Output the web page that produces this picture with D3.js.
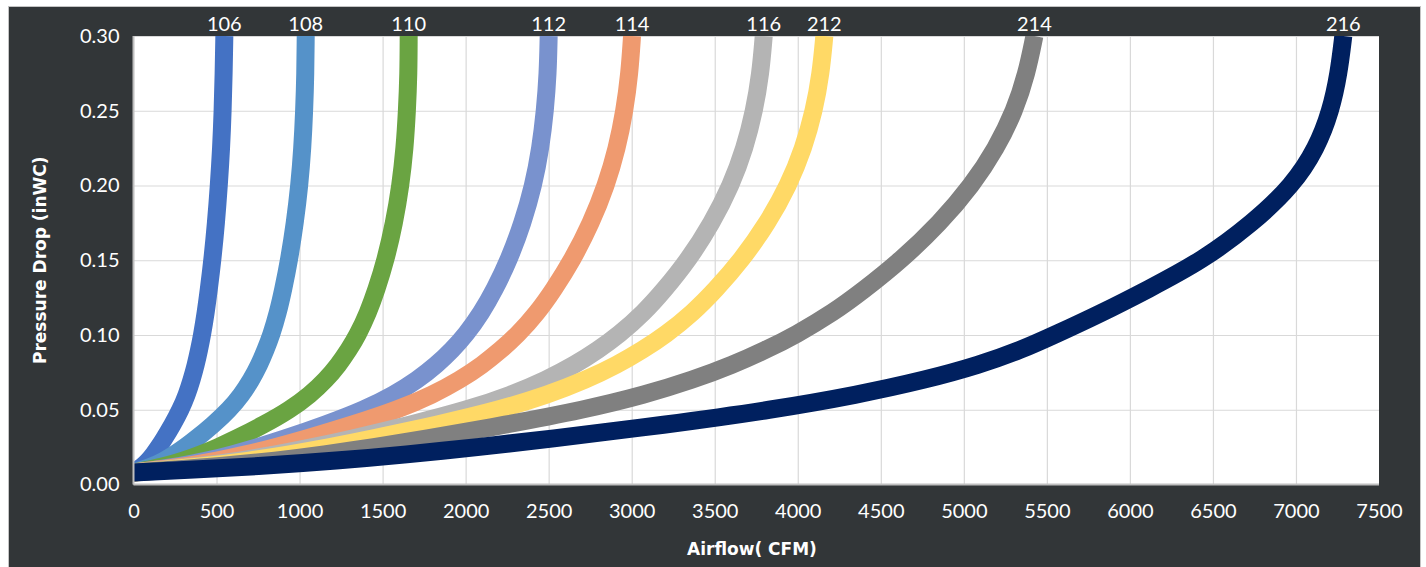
<!DOCTYPE html>
<html>
<head>
<meta charset="utf-8">
<script src="https://cdn.jsdelivr.net/npm/d3@7"></script>
<style>
  body { margin: 0; background: #ffffff; }
  svg { display: block; }
</style>
</head>
<body>
<div id="chart"></div>
<script>
// pressure drop levels (inWC) shared by every model curve
var pressureLevels = [0.008, 0.010, 0.012, 0.016, 0.02, 0.025, 0.03, 0.04, 0.05, 0.06, 0.07, 0.08, 0.09, 0.10, 0.115, 0.13, 0.15, 0.175, 0.20, 0.225, 0.25, 0.275, 0.30];

// airflow (CFM) at those levels
var cfm106 = [0, 27, 53, 91, 120, 152, 181, 235, 283, 321, 350, 375, 395, 413, 435, 453, 475, 497, 514, 528, 537, 543, 547];
var cfm108 = [0, 55, 110, 186, 246, 311, 371, 480, 576, 651, 709, 757, 795, 830, 870, 901, 937, 972, 999, 1017, 1028, 1035, 1037];
var cfm110 = [0, 90, 181, 304, 403, 510, 608, 785, 942, 1063, 1158, 1234, 1296, 1350, 1413, 1462, 1518, 1570, 1608, 1633, 1647, 1656, 1657];
var cfm112 = [0, 133, 265, 448, 593, 750, 895, 1156, 1389, 1569, 1710, 1825, 1918, 2000, 2096, 2173, 2260, 2344, 2408, 2451, 2478, 2495, 2500];
var cfm114 = [0, 150, 300, 510, 675, 856, 1021, 1321, 1591, 1801, 1966, 2101, 2212, 2312, 2432, 2528, 2642, 2756, 2846, 2912, 2957, 2987, 3002];
var cfm116 = [0, 190, 380, 645, 854, 1082, 1290, 1670, 2011, 2277, 2486, 2657, 2797, 2922, 3074, 3195, 3340, 3484, 3598, 3681, 3738, 3776, 3795];
var cfm212 = [0, 208, 416, 707, 936, 1186, 1414, 1830, 2205, 2496, 2725, 2912, 3066, 3203, 3370, 3503, 3661, 3819, 3944, 4035, 4098, 4139, 4160];
var cfm214 = [0, 252, 505, 865, 1145, 1451, 1731, 2245, 2714, 3080, 3369, 3608, 3808, 3987, 4214, 4397, 4622, 4857, 5048, 5196, 5306, 5379, 5425];
var cfm216 = [0, 364, 729, 1238, 1639, 2076, 2477, 3205, 3850, 4360, 4770, 5095, 5345, 5545, 5835, 6100, 6440, 6740, 6980, 7125, 7210, 7258, 7285];

var models = ['106', '108', '110', '112', '114', '116', '212', '214', '216'];
var modelCfm = [cfm106, cfm108, cfm110, cfm112, cfm114, cfm116, cfm212, cfm214, cfm216];
var modelColors = ['#4472c4', '#5592c9', '#6aa442', '#7992ce', '#ef9a6f', '#b4b4b4', '#ffd966', '#808080', '#00205f'];

var xTickValues = [0, 500, 1000, 1500, 2000, 2500, 3000, 3500, 4000, 4500, 5000, 5500, 6000, 6500, 7000, 7500];
var yTickValues = [0, 0.05, 0.10, 0.15, 0.20, 0.25, 0.30];

var w = 1426, h = 567;
var plotLeft = 133.5, plotRight = 1379, plotTop = 36, plotBottom = 484.5;
var labelFont = 'Lato, "DejaVu Sans", sans-serif';
var titleFont = '"DejaVu Sans", sans-serif';

var x = d3.scaleLinear().domain([0, 7500]).range([plotLeft, plotRight]);
var y = d3.scaleLinear().domain([0, 0.30]).range([plotBottom, plotTop]);

var svg = d3.select('#chart').append('svg')
	.attr('width', w)
	.attr('height', h);

// dark frame behind everything
svg.append('rect')
	.attr('x', 8.5)
	.attr('y', 6.5)
	.attr('width', 1412)
	.attr('height', 575)
	.attr('fill', '#323638')
	.attr('stroke', '#c4c4c4')
	.attr('stroke-width', 1);

svg.append('rect')
	.attr('x', plotLeft)
	.attr('y', plotTop)
	.attr('width', plotRight - plotLeft)
	.attr('height', plotBottom - plotTop)
	.attr('fill', '#ffffff');

svg.append('clipPath')
	.attr('id', 'plotClip')
	.append('rect')
		.attr('x', plotLeft)
		.attr('y', plotTop)
		.attr('width', plotRight - plotLeft)
		.attr('height', plotBottom - plotTop);

// gridlines
var xGrid = svg.append('g')
	.attr('transform', 'translate(0,' + plotBottom + ')')
	.call(d3.axisBottom(x).tickValues(xTickValues.slice(1, -1)).tickSize(-(plotBottom - plotTop)).tickFormat(''));
xGrid.select('.domain').remove();
xGrid.selectAll('line').attr('stroke', '#d9d9d9').attr('stroke-width', 1.2);

var yGrid = svg.append('g')
	.attr('transform', 'translate(' + plotLeft + ',0)')
	.call(d3.axisLeft(y).tickValues(yTickValues.slice(1)).tickSize(-(plotRight - plotLeft)).tickFormat(''));
yGrid.select('.domain').remove();
yGrid.selectAll('line').attr('stroke', '#d9d9d9').attr('stroke-width', 1.2);

// curves, 106 first so 216 ends up on top
var series = models.map(function(name, i) {
	return {
		name: name,
		color: modelColors[i],
		values: pressureLevels.map(function(p, j) { return {p: p, q: modelCfm[i][j]}; })
	};
});

var line = d3.line()
	.x(function(d) { return x(d.q); })
	.y(function(d) { return y(d.p); })
	.curve(d3.curveBasis);

svg.append('g')
	.attr('clip-path', 'url(#plotClip)')
	.selectAll('path')
	.data(series)
	.enter().append('path')
		.attr('d', function(d) { return line(d.values); })
		.attr('fill', 'none')
		.attr('stroke', function(d) { return d.color; })
		.attr('stroke-width', 18)
		.attr('stroke-linejoin', 'round');

// axis lines
svg.append('line')
	.attr('x1', plotLeft).attr('y1', plotTop)
	.attr('x2', plotLeft).attr('y2', plotBottom)
	.attr('stroke', '#bfbfbf').attr('stroke-width', 2);
svg.append('line')
	.attr('x1', plotLeft).attr('y1', plotBottom)
	.attr('x2', plotRight).attr('y2', plotBottom)
	.attr('stroke', '#bfbfbf').attr('stroke-width', 2);

// tick labels
var xAxis = svg.append('g')
	.attr('transform', 'translate(0,' + plotBottom + ')')
	.call(d3.axisBottom(x).tickValues(xTickValues).tickSize(0).tickPadding(19).tickFormat(d3.format('d')));
xAxis.select('.domain').remove();
xAxis.selectAll('text')
	.attr('fill', '#ffffff')
	.attr('font-family', labelFont)
	.attr('font-size', 20);

var yAxis = svg.append('g')
	.attr('transform', 'translate(' + plotLeft + ',0)')
	.call(d3.axisLeft(y).tickValues(yTickValues).tickSize(0).tickPadding(14).tickFormat(d3.format('.2f')));
yAxis.select('.domain').remove();
yAxis.selectAll('text')
	.attr('fill', '#ffffff')
	.attr('font-family', labelFont)
	.attr('font-size', 20);

// model names above the top of each curve
svg.selectAll('text.model')
	.data(series)
	.enter().append('text')
		.attr('class', 'model')
		.attr('x', function(d) { return x(d.values[d.values.length - 1].q); })
		.attr('y', 31)
		.attr('text-anchor', 'middle')
		.attr('fill', '#ffffff')
		.attr('font-family', labelFont)
		.attr('font-size', 20)
		.text(function(d) { return d.name; });

// axis titles
svg.append('text')
	.attr('transform', 'translate(40,' + ((plotTop + plotBottom) / 2) + ') rotate(-90)')
	.attr('text-anchor', 'middle')
	.attr('dy', '0.35em')
	.attr('fill', '#ffffff')
	.attr('font-family', titleFont)
	.attr('font-weight', 'bold')
	.attr('font-size', 17)
	.text('Pressure Drop (inWC)');

svg.append('text')
	.attr('x', 752)
	.attr('y', 555)
	.attr('text-anchor', 'middle')
	.attr('fill', '#ffffff')
	.attr('font-family', titleFont)
	.attr('font-weight', 'bold')
	.attr('font-size', 17)
	.text('Airflow( CFM)');
</script>
</body>
</html>
